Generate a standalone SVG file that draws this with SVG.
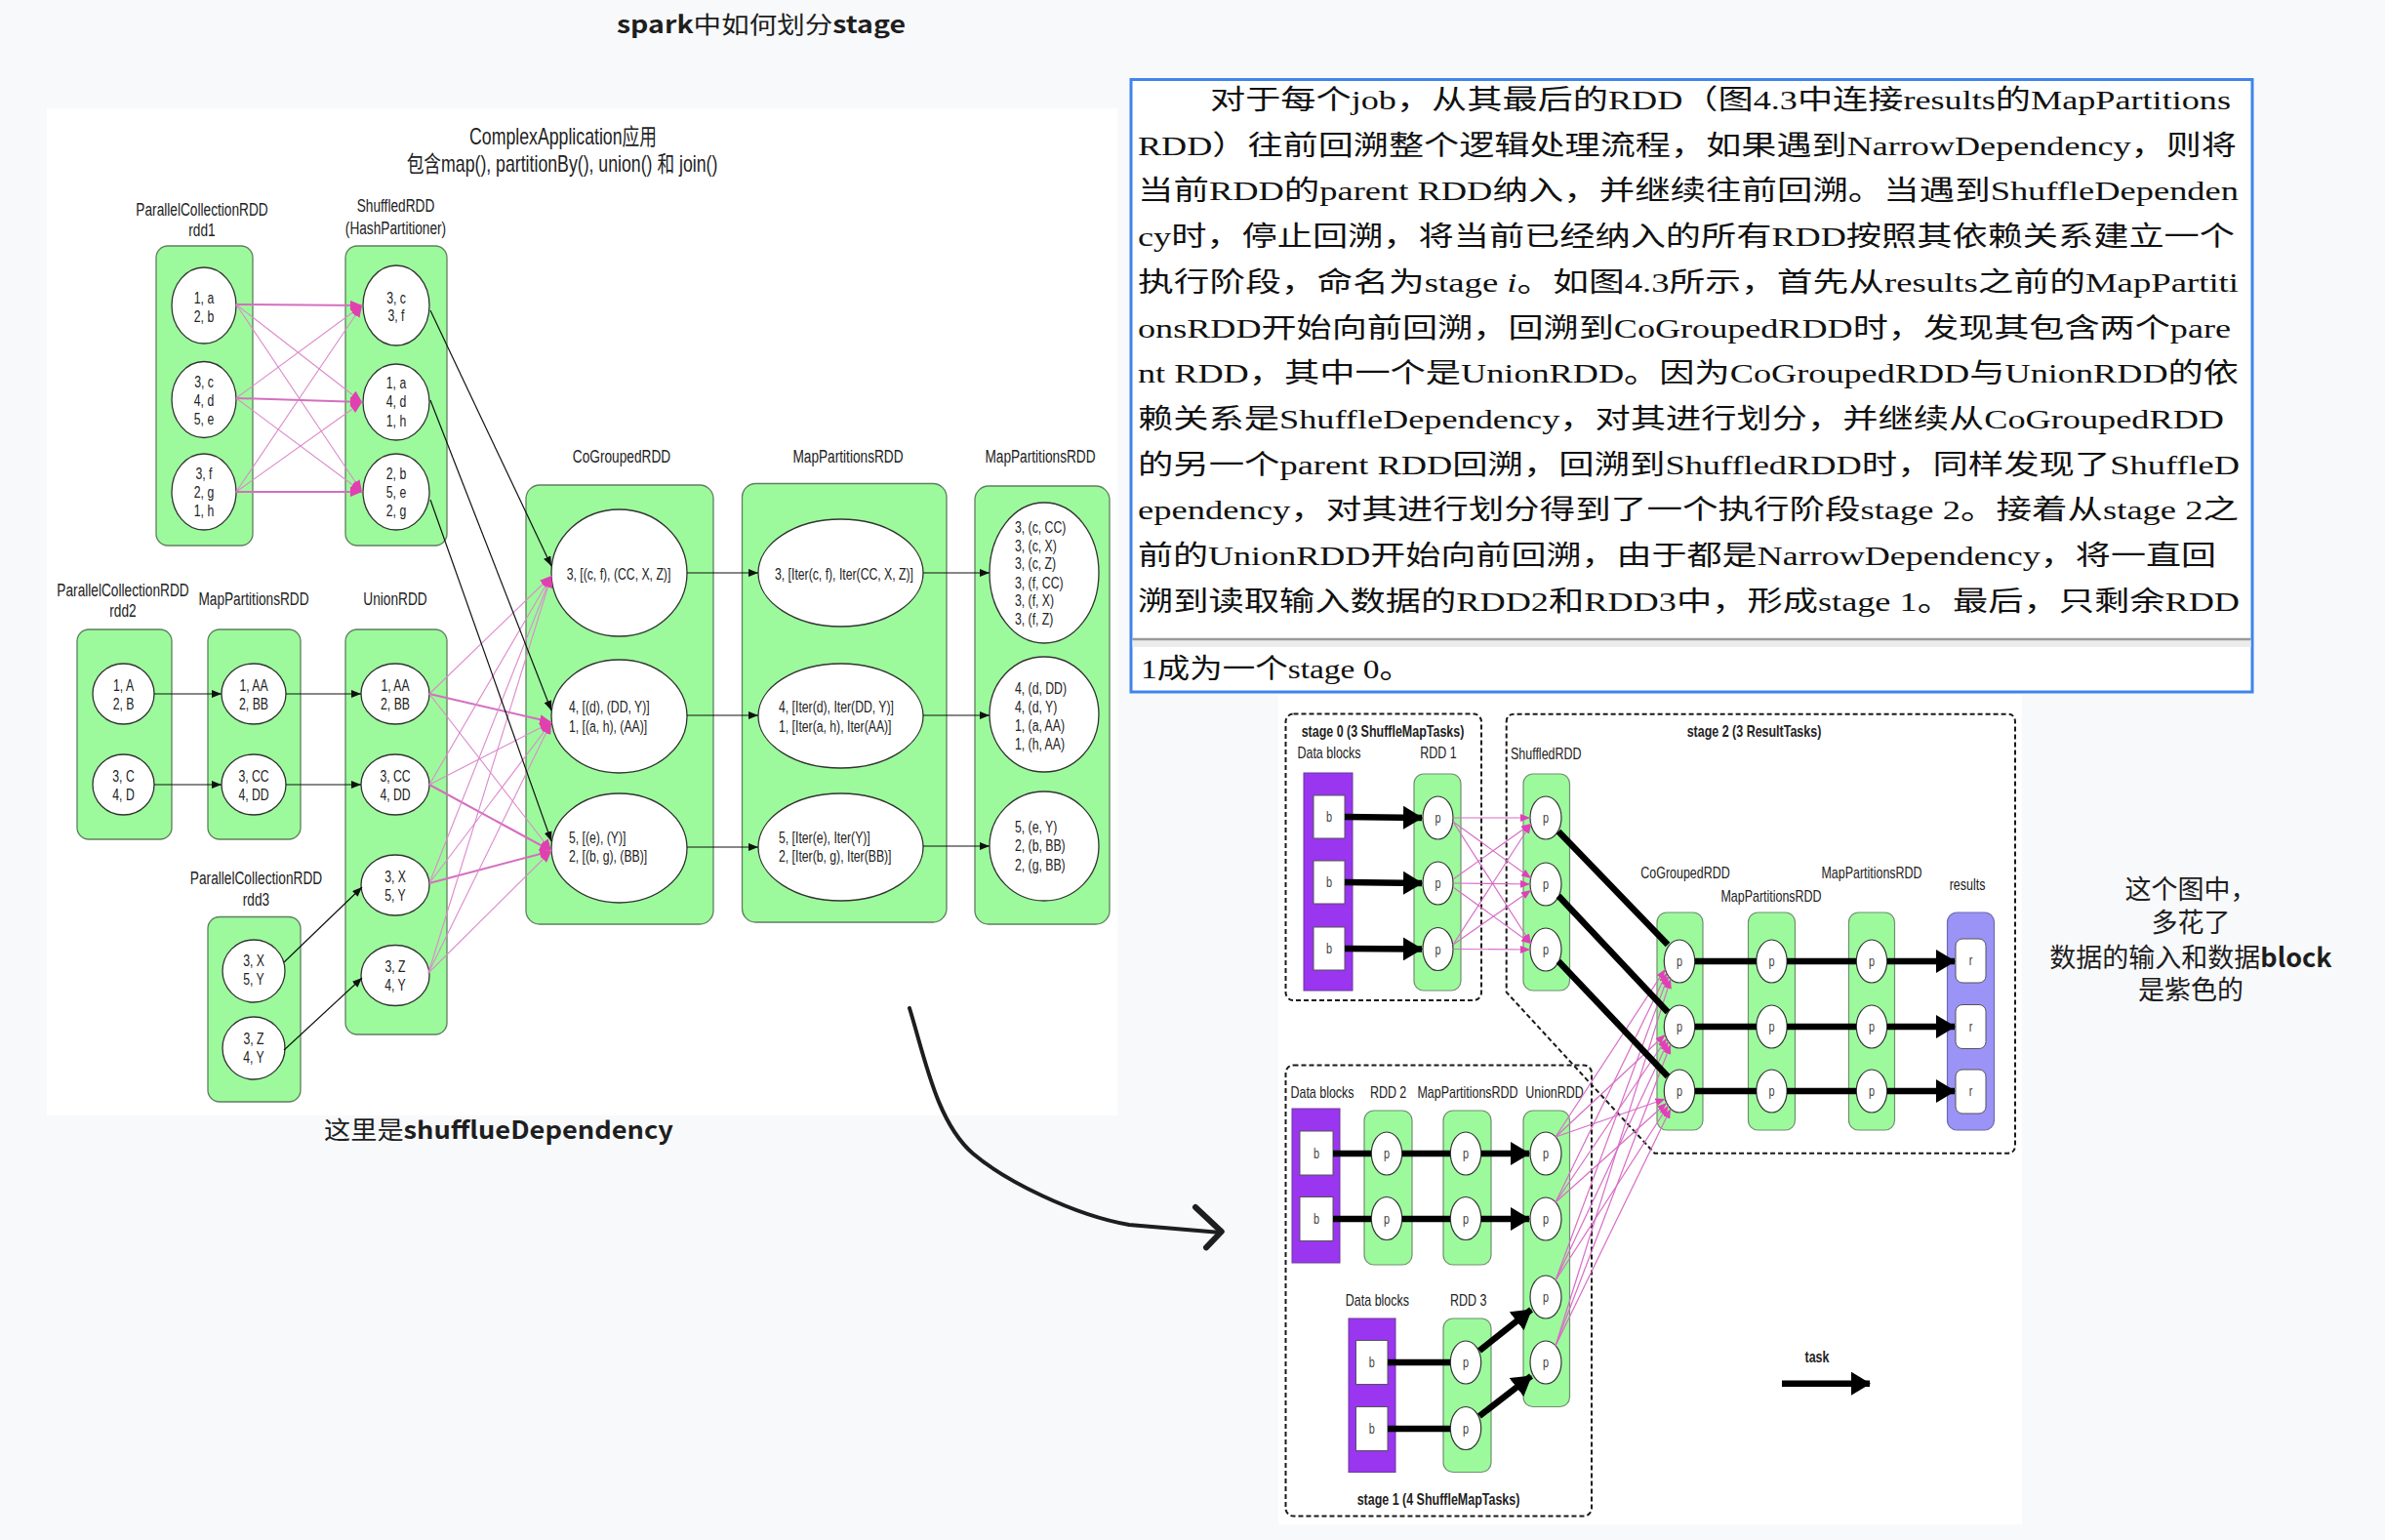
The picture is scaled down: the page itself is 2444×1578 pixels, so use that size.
<svg xmlns="http://www.w3.org/2000/svg" width="2444" height="1578" viewBox="0 0 2444 1578">
<defs>
<style>
.t{font-family:"Liberation Sans",Arial,"Noto Sans CJK SC",sans-serif;fill:#222}
.n{font-size:17px}
.lb{font-size:19px}
.m{text-anchor:middle}
.ct{fill:#9cfa9c;stroke:#5f7f5f;stroke-width:1.3}
.el{fill:#fff;stroke:#333;stroke-width:1.3}
.bk{stroke:#111;stroke-width:1.2;fill:none;marker-end:url(#ah)}
.pk{stroke:#dc8acb;stroke-width:1.1;fill:none;marker-end:url(#ahp)}
.pk2{stroke:#d46fc0;stroke-width:2;fill:none;marker-end:url(#ahp)}
.th{stroke:#000;stroke-width:6.5;fill:none}
.tha{stroke:#000;stroke-width:6.5;fill:none;marker-end:url(#aht)}
.pb{stroke:#d86cc6;stroke-width:1.2;fill:none;marker-end:url(#ahq)}
.dash{fill:none;stroke:#1a1a1a;stroke-width:2;stroke-dasharray:5 3}
.bt{font-family:"Liberation Sans",Arial,sans-serif;font-size:16px;fill:#222}
.bb{font-weight:bold}
.pt{font-family:"Liberation Sans",Arial,sans-serif;font-size:14px;fill:#444;text-anchor:middle}
.pur{fill:#9a35f0;stroke:#6a3a9a;stroke-width:1}
.res{fill:#9c93f7;stroke:#6a6ab0;stroke-width:1.2}
.blk{fill:#fff;stroke:#555;stroke-width:1}
.ctb{fill:#9cfa9c;stroke:#6f8f6f;stroke-width:1.2}
.elb{fill:#fff;stroke:#333;stroke-width:1.2}
.bx{font-family:"Liberation Serif","Noto Sans CJK SC",serif;font-size:28px;fill:#111}
.hw{font-family:"Noto Sans CJK SC",Lato,sans-serif;fill:#1e1e1e}
</style>
<marker id="ah" viewBox="0 0 10 8" markerWidth="10" markerHeight="8" refX="10" refY="4" orient="auto" markerUnits="userSpaceOnUse"><path d="M0,0L10,4L0,8z" fill="#111"/></marker>
<marker id="ahp" viewBox="0 0 12 10" markerWidth="12" markerHeight="10" refX="12" refY="5" orient="auto" markerUnits="userSpaceOnUse"><path d="M0,0L12,5L0,10z" fill="#e040b0"/></marker>
<marker id="ahq" viewBox="0 0 10 8" markerWidth="10" markerHeight="8" refX="10" refY="4" orient="auto" markerUnits="userSpaceOnUse"><path d="M0,0L10,4L0,8z" fill="#e040b8"/></marker>
<marker id="aht" viewBox="0 0 20 24" markerWidth="20" markerHeight="24" refX="19" refY="12" orient="auto" markerUnits="userSpaceOnUse"><path d="M0,0L20,12L0,24z" fill="#000"/></marker>
</defs>

<rect x="0" y="0" width="2444" height="1578" fill="#f8f9fb"/>
<rect x="48" y="111" width="1097" height="1032" fill="#ffffff"/>
<rect x="1310" y="712" width="762" height="850" fill="#ffffff"/>

<text class="hw" x="780" y="34" text-anchor="middle" font-size="24" textLength="296" lengthAdjust="spacingAndGlyphs"><tspan font-weight="700">spark</tspan>中如何划分<tspan font-weight="700">stage</tspan></text>
<text class="hw" x="511" y="1167" text-anchor="middle" font-size="25" textLength="358" lengthAdjust="spacingAndGlyphs">这里是<tspan font-weight="700">shufflueDependency</tspan></text>

<g id="note" class="hw" font-size="27" text-anchor="middle">
<text x="2245" y="921">这个图中，</text>
<text x="2245" y="955">多花了</text>
<text x="2245" y="991">数据的输入和数据<tspan font-weight="700">block</tspan></text>
<text x="2245" y="1024">是紫色的</text>
</g>

<!-- Left diagram -->
<g id="left-title">
<text class="t m" font-size="23" transform="translate(577,148) scale(.77,1)">ComplexApplication应用</text>
<text class="t m" font-size="23" transform="translate(576,176) scale(.77,1)">包含map(), partitionBy(), union() 和 join()</text>
</g>

<g id="rdd1">
<text class="t lb m" transform="translate(207,220.5) scale(.72,1)">ParallelCollectionRDD</text>
<text class="t lb m" transform="translate(207,242) scale(.72,1)">rdd1</text>
<rect class="ct" x="160" y="252" width="99" height="307" rx="12"/>
<ellipse class="el" cx="209" cy="313" rx="33" ry="39"/>
<ellipse class="el" cx="209" cy="409.5" rx="33" ry="39"/>
<ellipse class="el" cx="209" cy="504" rx="33" ry="39"/>
<text class="t n m" transform="translate(209,311) scale(.72,1)">1, a</text>
<text class="t n m" transform="translate(209,329.5) scale(.72,1)">2, b</text>
<text class="t n m" transform="translate(209,397) scale(.72,1)">3, c</text>
<text class="t n m" transform="translate(209,416) scale(.72,1)">4, d</text>
<text class="t n m" transform="translate(209,435) scale(.72,1)">5, e</text>
<text class="t n m" transform="translate(209,491) scale(.72,1)">3, f</text>
<text class="t n m" transform="translate(209,510) scale(.72,1)">2, g</text>
<text class="t n m" transform="translate(209,529) scale(.72,1)">1, h</text>
</g>

<g id="shuffledRDD">
<text class="t lb m" transform="translate(405.5,217) scale(.72,1)">ShuffledRDD</text>
<text class="t lb m" transform="translate(405.5,240) scale(.72,1)">(HashPartitioner)</text>
<rect class="ct" x="354" y="252" width="104" height="307" rx="12"/>
<ellipse class="el" cx="406" cy="313" rx="34" ry="41"/>
<ellipse class="el" cx="406" cy="412" rx="34" ry="39"/>
<ellipse class="el" cx="406" cy="504" rx="34" ry="39"/>
<text class="t n m" transform="translate(406,311) scale(.72,1)">3, c</text>
<text class="t n m" transform="translate(406,329) scale(.72,1)">3, f</text>
<text class="t n m" transform="translate(406,398) scale(.72,1)">1, a</text>
<text class="t n m" transform="translate(406,417) scale(.72,1)">4, d</text>
<text class="t n m" transform="translate(406,436.5) scale(.72,1)">1, h</text>
<text class="t n m" transform="translate(406,491) scale(.72,1)">2, b</text>
<text class="t n m" transform="translate(406,510) scale(.72,1)">5, e</text>
<text class="t n m" transform="translate(406,529) scale(.72,1)">2, g</text>
</g>

<g id="rdd2">
<text class="t lb m" transform="translate(126,611) scale(.72,1)">ParallelCollectionRDD</text>
<text class="t lb m" transform="translate(126,632) scale(.72,1)">rdd2</text>
<rect class="ct" x="79" y="645" width="97" height="215" rx="12"/>
<ellipse class="el" cx="126.5" cy="711" rx="31.5" ry="31"/>
<ellipse class="el" cx="126.5" cy="804" rx="31.5" ry="31"/>
<text class="t n m" transform="translate(126.5,707.5) scale(.72,1)">1, A</text>
<text class="t n m" transform="translate(126.5,727) scale(.72,1)">2, B</text>
<text class="t n m" transform="translate(126.5,801) scale(.72,1)">3, C</text>
<text class="t n m" transform="translate(126.5,820) scale(.72,1)">4, D</text>
</g>

<g id="mapPartitionsRDD-a">
<text class="t lb m" transform="translate(260,619.5) scale(.72,1)">MapPartitionsRDD</text>
<rect class="ct" x="213" y="645" width="95" height="215" rx="12"/>
<ellipse class="el" cx="260" cy="711" rx="33" ry="31"/>
<ellipse class="el" cx="260" cy="804" rx="33" ry="31"/>
<text class="t n m" transform="translate(260,707.5) scale(.72,1)">1, AA</text>
<text class="t n m" transform="translate(260,727) scale(.72,1)">2, BB</text>
<text class="t n m" transform="translate(260,801) scale(.72,1)">3, CC</text>
<text class="t n m" transform="translate(260,820) scale(.72,1)">4, DD</text>
</g>

<g id="unionRDD">
<text class="t lb m" transform="translate(405,619.5) scale(.72,1)">UnionRDD</text>
<rect class="ct" x="354" y="645" width="104" height="415" rx="12"/>
<ellipse class="el" cx="405" cy="711" rx="35" ry="31"/>
<ellipse class="el" cx="405" cy="804" rx="35" ry="31"/>
<ellipse class="el" cx="405" cy="907" rx="35" ry="31"/>
<ellipse class="el" cx="405" cy="999.5" rx="35" ry="31"/>
<text class="t n m" transform="translate(405,707.5) scale(.72,1)">1, AA</text>
<text class="t n m" transform="translate(405,727) scale(.72,1)">2, BB</text>
<text class="t n m" transform="translate(405,801) scale(.72,1)">3, CC</text>
<text class="t n m" transform="translate(405,820) scale(.72,1)">4, DD</text>
<text class="t n m" transform="translate(405,904) scale(.72,1)">3, X</text>
<text class="t n m" transform="translate(405,923) scale(.72,1)">5, Y</text>
<text class="t n m" transform="translate(405,996) scale(.72,1)">3, Z</text>
<text class="t n m" transform="translate(405,1015) scale(.72,1)">4, Y</text>
</g>

<g id="rdd3">
<text class="t lb m" transform="translate(262.5,906) scale(.72,1)">ParallelCollectionRDD</text>
<text class="t lb m" transform="translate(262.5,928) scale(.72,1)">rdd3</text>
<rect class="ct" x="213" y="939.5" width="95" height="189.5" rx="12"/>
<ellipse class="el" cx="260" cy="995" rx="32" ry="32"/>
<ellipse class="el" cx="260" cy="1074" rx="32" ry="32"/>
<text class="t n m" transform="translate(260,990) scale(.72,1)">3, X</text>
<text class="t n m" transform="translate(260,1009) scale(.72,1)">5, Y</text>
<text class="t n m" transform="translate(260,1070) scale(.72,1)">3, Z</text>
<text class="t n m" transform="translate(260,1089) scale(.72,1)">4, Y</text>
</g>

<g id="coGroupedRDD">
<text class="t lb m" transform="translate(637,474) scale(.72,1)">CoGroupedRDD</text>
<rect class="ct" x="539" y="497" width="192" height="450" rx="14"/>
<ellipse class="el" cx="634.5" cy="587" rx="69.5" ry="65"/>
<ellipse class="el" cx="634.5" cy="734" rx="69.5" ry="58"/>
<ellipse class="el" cx="634.5" cy="869" rx="69.5" ry="56"/>
<text class="t n m" transform="translate(634,593.5) scale(.72,1)">3, [(c, f), (CC, X, Z)]</text>
<text class="t n" transform="translate(583,730) scale(.72,1)">4, [(d), (DD, Y)]</text>
<text class="t n" transform="translate(583,750) scale(.72,1)">1, [(a, h), (AA)]</text>
<text class="t n" transform="translate(583,864) scale(.72,1)">5, [(e), (Y)]</text>
<text class="t n" transform="translate(583,883) scale(.72,1)">2, [(b, g), (BB)]</text>
</g>

<g id="mapPartitionsRDD-b">
<text class="t lb m" transform="translate(869,474) scale(.72,1)">MapPartitionsRDD</text>
<rect class="ct" x="760.5" y="495.5" width="209.5" height="449.5" rx="14"/>
<ellipse class="el" cx="861.5" cy="587" rx="84.5" ry="55"/>
<ellipse class="el" cx="861.5" cy="733.5" rx="84.5" ry="53.5"/>
<ellipse class="el" cx="861.5" cy="868" rx="84.5" ry="55"/>
<text class="t n m" transform="translate(865,593.5) scale(.72,1)">3, [Iter(c, f), Iter(CC, X, Z)]</text>
<text class="t n" transform="translate(798,730) scale(.72,1)">4, [Iter(d), Iter(DD, Y)]</text>
<text class="t n" transform="translate(798,750) scale(.72,1)">1, [Iter(a, h), Iter(AA)]</text>
<text class="t n" transform="translate(798,863.6) scale(.72,1)">5, [Iter(e), Iter(Y)]</text>
<text class="t n" transform="translate(798,883) scale(.72,1)">2, [Iter(b, g), Iter(BB)]</text>
</g>

<g id="mapPartitionsRDD-c">
<text class="t lb m" transform="translate(1066,474) scale(.72,1)">MapPartitionsRDD</text>
<rect class="ct" x="999" y="498" width="138" height="449" rx="14"/>
<ellipse class="el" cx="1070" cy="587" rx="56" ry="72"/>
<ellipse class="el" cx="1070" cy="732" rx="56" ry="59"/>
<ellipse class="el" cx="1070" cy="867" rx="56" ry="56"/>
<text class="t n" transform="translate(1040,545.5) scale(.72,1)">3, (c, CC)</text>
<text class="t n" transform="translate(1040,564.7) scale(.72,1)">3, (c, X)</text>
<text class="t n" transform="translate(1040,583) scale(.72,1)">3, (c, Z)</text>
<text class="t n" transform="translate(1040,602.7) scale(.72,1)">3, (f, CC)</text>
<text class="t n" transform="translate(1040,621) scale(.72,1)">3, (f, X)</text>
<text class="t n" transform="translate(1040,640) scale(.72,1)">3, (f, Z)</text>
<text class="t n" transform="translate(1040,711) scale(.72,1)">4, (d, DD)</text>
<text class="t n" transform="translate(1040,730) scale(.72,1)">4, (d, Y)</text>
<text class="t n" transform="translate(1040,749) scale(.72,1)">1, (a, AA)</text>
<text class="t n" transform="translate(1040,768) scale(.72,1)">1, (h, AA)</text>
<text class="t n" transform="translate(1040,853) scale(.72,1)">5, (e, Y)</text>
<text class="t n" transform="translate(1040,872) scale(.72,1)">2, (b, BB)</text>
<text class="t n" transform="translate(1040,892) scale(.72,1)">2, (g, BB)</text>
</g>

<!-- Text box -->
<g id="textbox">
<rect x="1159" y="81.5" width="1149" height="627.5" fill="#ffffff" stroke="#3f84ea" stroke-width="3"/>
<rect x="1160.5" y="656" width="1146" height="7" fill="#ececec"/>
<line x1="1160.5" y1="655" x2="2306.5" y2="655" stroke="#9a9a9a" stroke-width="2.5"/>
<text class="bx" x="1240" y="112" textLength="1046" lengthAdjust="spacingAndGlyphs">对于每个job，从其最后的RDD（图4.3中连接results的MapPartitions</text>
<text class="bx" x="1166" y="159" textLength="1126" lengthAdjust="spacingAndGlyphs">RDD）往前回溯整个逻辑处理流程，如果遇到NarrowDependency，则将</text>
<text class="bx" x="1166" y="205" textLength="1128" lengthAdjust="spacingAndGlyphs">当前RDD的parent  RDD纳入，并继续往前回溯。当遇到ShuffleDependen</text>
<text class="bx" x="1166" y="252" textLength="1124" lengthAdjust="spacingAndGlyphs">cy时，停止回溯，将当前已经纳入的所有RDD按照其依赖关系建立一个</text>
<text class="bx" x="1166" y="299" textLength="1128" lengthAdjust="spacingAndGlyphs">执行阶段，命名为stage  <tspan font-style="italic">i</tspan>。如图4.3所示，首先从results之前的MapPartiti</text>
<text class="bx" x="1166" y="345.5" textLength="1120" lengthAdjust="spacingAndGlyphs">onsRDD开始向前回溯，回溯到CoGroupedRDD时，发现其包含两个pare</text>
<text class="bx" x="1166" y="392" textLength="1128" lengthAdjust="spacingAndGlyphs">nt RDD，其中一个是UnionRDD。因为CoGroupedRDD与UnionRDD的依</text>
<text class="bx" x="1166" y="439" textLength="1113" lengthAdjust="spacingAndGlyphs">赖关系是ShuffleDependency，对其进行划分，并继续从CoGroupedRDD</text>
<text class="bx" x="1166" y="485.5" textLength="1129" lengthAdjust="spacingAndGlyphs">的另一个parent RDD回溯，回溯到ShuffledRDD时，同样发现了ShuffleD</text>
<text class="bx" x="1166" y="532" textLength="1128" lengthAdjust="spacingAndGlyphs">ependency，对其进行划分得到了一个执行阶段stage 2。接着从stage 2之</text>
<text class="bx" x="1166" y="579" textLength="1105" lengthAdjust="spacingAndGlyphs">前的UnionRDD开始向前回溯，由于都是NarrowDependency，将一直回</text>
<text class="bx" x="1166" y="626" textLength="1129" lengthAdjust="spacingAndGlyphs">溯到读取输入数据的RDD2和RDD3中，形成stage 1。最后，只剩余RDD</text>
<text class="bx" x="1169" y="695" textLength="278" lengthAdjust="spacingAndGlyphs">1成为一个stage 0。</text>
</g>

<!-- Bottom-right diagram: stages -->
<g id="stage0">
<rect class="dash" x="1317.5" y="731.5" width="200.5" height="293.5" rx="8"/>
<text class="bt bb m" transform="translate(1417,755) scale(.78,1)">stage 0 (3 ShuffleMapTasks)</text>
</g>
<g id="stage2">
<path class="dash" d="M1543.7,740 Q1543.7,731.7 1552,731.7 L2057,731.7 Q2065,731.7 2065,740 L2065,1173.5 Q2065,1181.7 2057,1181.7 L1695.5,1181.7 L1543.7,1016.7 Z"/>
<text class="bt bb m" transform="translate(1797.5,755) scale(.78,1)">stage 2 (3 ResultTasks)</text>
</g>
<g id="stage1">
<rect class="dash" x="1317.5" y="1091.5" width="313.5" height="462" rx="8"/>
<text class="bt bb m" transform="translate(1474,1542) scale(.78,1)">stage 1 (4 ShuffleMapTasks)</text>
</g>

<g id="datablocks-1">
<text class="bt m" transform="translate(1362,776.5) scale(.78,1)">Data blocks</text>
<rect class="pur" x="1336" y="792" width="50" height="223"/>
<rect class="blk" x="1346" y="815" width="32" height="44"/>
<rect class="blk" x="1346" y="882" width="32" height="44"/>
<rect class="blk" x="1346" y="950" width="32" height="44"/>
<text class="pt" transform="translate(1362,842) scale(.78,1)">b</text>
<text class="pt" transform="translate(1362,909) scale(.78,1)">b</text>
<text class="pt" transform="translate(1362,977) scale(.78,1)">b</text>
</g>
<g id="rdd-1">
<text class="bt m" transform="translate(1474,776.5) scale(.78,1)">RDD 1</text>
<rect class="ctb" x="1449" y="793" width="48" height="222" rx="10"/>
<ellipse class="elb" cx="1473.5" cy="838" rx="15.5" ry="22"/>
<ellipse class="elb" cx="1473.5" cy="905" rx="15.5" ry="22"/>
<ellipse class="elb" cx="1473.5" cy="972.5" rx="15.5" ry="22"/>
<text class="pt" transform="translate(1473.5,843) scale(.78,1)">p</text>
<text class="pt" transform="translate(1473.5,910) scale(.78,1)">p</text>
<text class="pt" transform="translate(1473.5,977.5) scale(.78,1)">p</text>
</g>
<g id="shuffled-rdd">
<text class="bt" transform="translate(1548,778) scale(.78,1)">ShuffledRDD</text>
<rect class="ctb" x="1561" y="793" width="47.5" height="222" rx="10"/>
<ellipse class="elb" cx="1584" cy="838" rx="16" ry="22"/>
<ellipse class="elb" cx="1584" cy="906" rx="16" ry="22"/>
<ellipse class="elb" cx="1584" cy="973" rx="16" ry="22"/>
<text class="pt" transform="translate(1584,843) scale(.78,1)">p</text>
<text class="pt" transform="translate(1584,911) scale(.78,1)">p</text>
<text class="pt" transform="translate(1584,978) scale(.78,1)">p</text>
</g>
<g id="cogrouped-rdd">
<text class="bt m" transform="translate(1727,900) scale(.78,1)">CoGroupedRDD</text>
<rect class="ctb" x="1698" y="935" width="47" height="223" rx="10"/>
<ellipse class="elb" cx="1721" cy="985" rx="15.7" ry="22"/>
<ellipse class="elb" cx="1721" cy="1052" rx="15.7" ry="22"/>
<ellipse class="elb" cx="1721" cy="1118" rx="15.7" ry="22"/>
<text class="pt" transform="translate(1721,990) scale(.78,1)">p</text>
<text class="pt" transform="translate(1721,1057) scale(.78,1)">p</text>
<text class="pt" transform="translate(1721,1123) scale(.78,1)">p</text>
</g>
<g id="mappartitions-rdd-1">
<text class="bt m" transform="translate(1815,924) scale(.78,1)">MapPartitionsRDD</text>
<rect class="ctb" x="1791.5" y="935" width="48" height="223" rx="10"/>
<ellipse class="elb" cx="1815.5" cy="985" rx="15.7" ry="22"/>
<ellipse class="elb" cx="1815.5" cy="1052" rx="15.7" ry="22"/>
<ellipse class="elb" cx="1815.5" cy="1118" rx="15.7" ry="22"/>
<text class="pt" transform="translate(1815.5,990) scale(.78,1)">p</text>
<text class="pt" transform="translate(1815.5,1057) scale(.78,1)">p</text>
<text class="pt" transform="translate(1815.5,1123) scale(.78,1)">p</text>
</g>
<g id="mappartitions-rdd-2">
<text class="bt m" transform="translate(1918,900) scale(.78,1)">MapPartitionsRDD</text>
<rect class="ctb" x="1894.5" y="935" width="47" height="223" rx="10"/>
<ellipse class="elb" cx="1918" cy="985" rx="15.7" ry="22"/>
<ellipse class="elb" cx="1918" cy="1052" rx="15.7" ry="22"/>
<ellipse class="elb" cx="1918" cy="1118" rx="15.7" ry="22"/>
<text class="pt" transform="translate(1918,990) scale(.78,1)">p</text>
<text class="pt" transform="translate(1918,1057) scale(.78,1)">p</text>
<text class="pt" transform="translate(1918,1123) scale(.78,1)">p</text>
</g>
<g id="results">
<text class="bt m" transform="translate(2016,912) scale(.78,1)">results</text>
<rect class="res" x="1995.5" y="935" width="48" height="223" rx="10"/>
<rect class="blk" x="2004" y="962" width="31" height="45" rx="7"/>
<rect class="blk" x="2004" y="1029.5" width="31" height="45" rx="7"/>
<rect class="blk" x="2004" y="1096" width="31" height="45" rx="7"/>
<text class="pt" transform="translate(2019.5,989) scale(.78,1)">r</text>
<text class="pt" transform="translate(2019.5,1057) scale(.78,1)">r</text>
<text class="pt" transform="translate(2019.5,1123) scale(.78,1)">r</text>
</g>
<g id="datablocks-2">
<text class="bt m" transform="translate(1355,1125) scale(.78,1)">Data blocks</text>
<rect class="pur" x="1324" y="1136" width="49" height="158"/>
<rect class="blk" x="1332" y="1159" width="34" height="45"/>
<rect class="blk" x="1332" y="1226.5" width="34" height="45"/>
<text class="pt" transform="translate(1349,1186.5) scale(.78,1)">b</text>
<text class="pt" transform="translate(1349,1254) scale(.78,1)">b</text>
</g>
<g id="rdd-2">
<text class="bt m" transform="translate(1422.6,1125) scale(.78,1)">RDD 2</text>
<rect class="ctb" x="1398" y="1138" width="49" height="158" rx="10"/>
<ellipse class="elb" cx="1421" cy="1182" rx="15.7" ry="22"/>
<ellipse class="elb" cx="1421" cy="1248.5" rx="15.7" ry="22"/>
<text class="pt" transform="translate(1421,1187) scale(.78,1)">p</text>
<text class="pt" transform="translate(1421,1253.5) scale(.78,1)">p</text>
</g>
<g id="mappartitions-rdd-s1">
<text class="bt m" transform="translate(1504,1125) scale(.78,1)">MapPartitionsRDD</text>
<rect class="ctb" x="1479" y="1138" width="49" height="158" rx="10"/>
<ellipse class="elb" cx="1502" cy="1182" rx="15.7" ry="22"/>
<ellipse class="elb" cx="1502" cy="1248.5" rx="15.7" ry="22"/>
<text class="pt" transform="translate(1502,1187) scale(.78,1)">p</text>
<text class="pt" transform="translate(1502,1253.5) scale(.78,1)">p</text>
</g>
<g id="union-rdd">
<text class="bt m" transform="translate(1593,1125) scale(.78,1)">UnionRDD</text>
<rect class="ctb" x="1561" y="1138" width="47.5" height="303.5" rx="10"/>
<ellipse class="elb" cx="1584" cy="1182" rx="16" ry="22"/>
<ellipse class="elb" cx="1584" cy="1249" rx="16" ry="22"/>
<ellipse class="elb" cx="1584" cy="1329" rx="16" ry="22"/>
<ellipse class="elb" cx="1584" cy="1396" rx="16" ry="22"/>
<text class="pt" transform="translate(1584,1187) scale(.78,1)">p</text>
<text class="pt" transform="translate(1584,1254) scale(.78,1)">p</text>
<text class="pt" transform="translate(1584,1334) scale(.78,1)">p</text>
<text class="pt" transform="translate(1584,1401) scale(.78,1)">p</text>
</g>
<g id="datablocks-3">
<text class="bt m" transform="translate(1411.4,1338) scale(.78,1)">Data blocks</text>
<rect class="pur" x="1382" y="1351" width="48" height="157.5"/>
<rect class="blk" x="1389.5" y="1373.5" width="32.5" height="45"/>
<rect class="blk" x="1389.5" y="1441.5" width="32.5" height="45"/>
<text class="pt" transform="translate(1405.7,1401) scale(.78,1)">b</text>
<text class="pt" transform="translate(1405.7,1469) scale(.78,1)">b</text>
</g>
<g id="rdd-3">
<text class="bt m" transform="translate(1504.7,1338) scale(.78,1)">RDD 3</text>
<rect class="ctb" x="1479" y="1351" width="49" height="157.5" rx="10"/>
<ellipse class="elb" cx="1502" cy="1396" rx="15.7" ry="22"/>
<ellipse class="elb" cx="1502" cy="1463.5" rx="15.7" ry="22"/>
<text class="pt" transform="translate(1502,1401) scale(.78,1)">p</text>
<text class="pt" transform="translate(1502,1468.5) scale(.78,1)">p</text>
</g>
<g id="legend-task">
<text class="bt bb m" transform="translate(1862,1396) scale(.78,1)">task</text>
<line class="tha" x1="1826" y1="1417.7" x2="1916" y2="1417.7"/>
</g>

<g id="connectors">
<g id="left-connectors">
<line class="pk2" x1="242" y1="312" x2="371" y2="313"/>
<line class="pk" x1="242" y1="312" x2="371" y2="412"/>
<line class="pk" x1="242" y1="312" x2="371" y2="504"/>
<line class="pk" x1="242" y1="408" x2="371" y2="313"/>
<line class="pk2" x1="242" y1="408" x2="371" y2="412"/>
<line class="pk" x1="242" y1="408" x2="371" y2="504"/>
<line class="pk" x1="242" y1="504" x2="371" y2="313"/>
<line class="pk" x1="242" y1="504" x2="371" y2="412"/>
<line class="pk2" x1="242" y1="504" x2="371" y2="504"/>

<line class="pk" x1="440" y1="711" x2="565" y2="590"/>
<line class="pk2" x1="440" y1="711" x2="565" y2="740"/>
<line class="pk" x1="440" y1="711" x2="565" y2="872"/>
<line class="pk" x1="440" y1="804" x2="565" y2="590"/>
<line class="pk" x1="440" y1="804" x2="565" y2="740"/>
<line class="pk2" x1="440" y1="804" x2="565" y2="872"/>
<line class="pk" x1="440" y1="905" x2="565" y2="590"/>
<line class="pk" x1="440" y1="905" x2="565" y2="740"/>
<line class="pk2" x1="440" y1="905" x2="565" y2="872"/>
<line class="pk" x1="439" y1="997" x2="565" y2="590"/>
<line class="pk" x1="439" y1="997" x2="565" y2="740"/>
<line class="pk" x1="439" y1="997" x2="565" y2="872"/>

<line class="bk" x1="441" y1="318" x2="565" y2="580"/>
<line class="bk" x1="441" y1="410" x2="565" y2="728"/>
<line class="bk" x1="441" y1="512" x2="565" y2="862"/>

<line class="bk" x1="158" y1="711" x2="227" y2="711"/>
<line class="bk" x1="158" y1="804" x2="227" y2="804"/>
<line class="bk" x1="293" y1="711" x2="370" y2="711"/>
<line class="bk" x1="293" y1="804" x2="370" y2="804"/>
<line class="bk" x1="291" y1="986" x2="371" y2="909"/>
<line class="bk" x1="291" y1="1076" x2="371" y2="1002"/>

<line class="bk" x1="704" y1="587" x2="777" y2="587"/>
<line class="bk" x1="704" y1="733" x2="777" y2="733"/>
<line class="bk" x1="704" y1="868" x2="777" y2="868"/>
<line class="bk" x1="946" y1="587" x2="1014" y2="587"/>
<line class="bk" x1="946" y1="733" x2="1014" y2="733"/>
<line class="bk" x1="946" y1="867" x2="1014" y2="867"/>
</g>

<g id="right-connectors">
<line class="pb" x1="1489" y1="838" x2="1568" y2="838"/>
<line class="pb" x1="1489" y1="842" x2="1569" y2="900"/>
<line class="pb" x1="1489" y1="842" x2="1569" y2="967"/>
<line class="pb" x1="1489" y1="901" x2="1569" y2="844"/>
<line class="pb" x1="1489" y1="905" x2="1568" y2="906"/>
<line class="pb" x1="1489" y1="909" x2="1569" y2="967"/>
<line class="pb" x1="1489" y1="968" x2="1569" y2="844"/>
<line class="pb" x1="1489" y1="968" x2="1569" y2="912"/>
<line class="pb" x1="1489" y1="972.5" x2="1568" y2="973"/>

<line class="pb" x1="1594" y1="1165" x2="1706.5" y2="993"/>
<line class="pb" x1="1594" y1="1232" x2="1708" y2="997"/>
<line class="pb" x1="1594" y1="1312" x2="1709.5" y2="1000"/>
<line class="pb" x1="1594" y1="1379" x2="1712" y2="1003"/>
<line class="pb" x1="1594" y1="1165" x2="1706.5" y2="1060"/>
<line class="pb" x1="1594" y1="1232" x2="1708" y2="1064"/>
<line class="pb" x1="1594" y1="1312" x2="1709.5" y2="1067"/>
<line class="pb" x1="1594" y1="1379" x2="1712" y2="1070"/>
<line class="pb" x1="1594" y1="1165" x2="1706.5" y2="1126"/>
<line class="pb" x1="1594" y1="1232" x2="1708" y2="1130"/>
<line class="pb" x1="1594" y1="1312" x2="1709.5" y2="1133"/>
<line class="pb" x1="1594" y1="1379" x2="1712" y2="1136"/>

<line class="tha" x1="1378" y1="837" x2="1457" y2="838"/>
<line class="tha" x1="1378" y1="904" x2="1457" y2="905"/>
<line class="tha" x1="1378" y1="972" x2="1457" y2="972.5"/>

<line class="th" x1="1597" y1="852" x2="1709" y2="968"/>
<line class="th" x1="1597" y1="918" x2="1709" y2="1037"/>
<line class="th" x1="1597" y1="985" x2="1709" y2="1103"/>

<line class="th" x1="1737" y1="985" x2="1800" y2="985"/>
<line class="th" x1="1831" y1="985" x2="1902" y2="985"/>
<line class="tha" x1="1934" y1="985" x2="2003" y2="985"/>
<line class="th" x1="1737" y1="1052" x2="1800" y2="1052"/>
<line class="th" x1="1831" y1="1052" x2="1902" y2="1052"/>
<line class="tha" x1="1934" y1="1052" x2="2003" y2="1052"/>
<line class="th" x1="1737" y1="1118" x2="1800" y2="1118"/>
<line class="th" x1="1831" y1="1118" x2="1902" y2="1118"/>
<line class="tha" x1="1934" y1="1118" x2="2003" y2="1118"/>

<line class="th" x1="1366" y1="1182" x2="1405" y2="1182"/>
<line class="th" x1="1437" y1="1182" x2="1486" y2="1182"/>
<line class="tha" x1="1518" y1="1182" x2="1567" y2="1182"/>
<line class="th" x1="1366" y1="1249" x2="1405" y2="1249"/>
<line class="th" x1="1437" y1="1249" x2="1486" y2="1249"/>
<line class="tha" x1="1518" y1="1249" x2="1567" y2="1249"/>

<line class="th" x1="1422" y1="1396" x2="1486" y2="1396"/>
<line class="th" x1="1422" y1="1464" x2="1486" y2="1464"/>
<line class="tha" x1="1516" y1="1384" x2="1569" y2="1342"/>
<line class="tha" x1="1516" y1="1451" x2="1569" y2="1410"/>
</g>
</g>

<g id="annotation-arrow" fill="none" stroke="#1e1e1e" stroke-linecap="round" stroke-linejoin="round">
<path d="M932,1033 C948,1085 960,1150 997,1182 C1030,1210 1100,1245 1157,1255 L1251,1263" stroke-width="4"/>
<path d="M1225,1237 L1251.7,1262 L1236,1278.3" stroke-width="6"/>
</g>
</svg>
